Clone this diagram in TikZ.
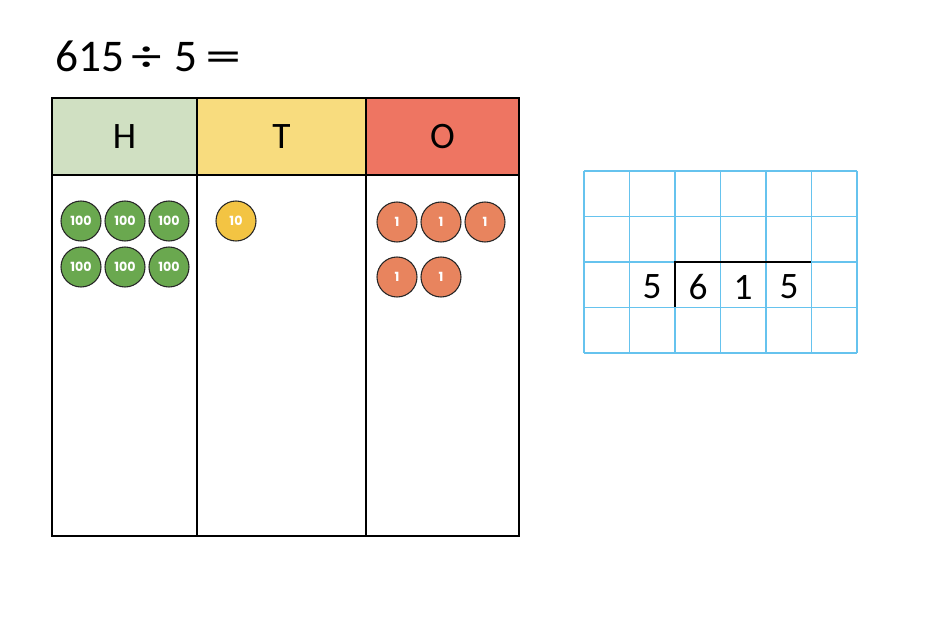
\documentclass[tikz,border=0pt]{standalone}
\usepackage{fontspec}
\setmainfont{Carlito}
\newfontfamily\coinfont{Poppins}
\definecolor{hhead}{HTML}{D0E0C2}
\definecolor{thead}{HTML}{F8DC7E}
\definecolor{ohead}{HTML}{EE7562}
\definecolor{hcoin}{HTML}{6AA84F}
\definecolor{tcoin}{HTML}{F3C443}
\definecolor{ocoin}{HTML}{E8845E}
\definecolor{gridblue}{HTML}{66C3EE}
\begin{document}
\begin{tikzpicture}[x=0.75pt,y=-0.75pt,
  cell/.style={draw=black,line width=1pt},
  coin/.style={circle,draw=black!85,line width=0.8pt,minimum size=30pt,inner sep=0pt,
    text=white,font=\coinfont\bfseries\fontsize{9.5}{10}\selectfont},
  hundred/.style={coin,fill=hcoin},
  ten/.style={coin,fill=tcoin},
  one/.style={coin,fill=ocoin},
  titletxt/.style={anchor=base,inner sep=0pt,font=\fontsize{34}{36}\selectfont},
  headtxt/.style={font=\fontsize{28}{30}\selectfont},
  gridnum/.style={font=\fontsize{28}{30}\selectfont}]
\useasboundingbox (0,0) rectangle (944,634);
% title
\node[titletxt,anchor=base west] (t615) at (55,72) {615};
\node[titletxt] (tdiv) at (146.5,72) {\scalebox{1.35}[1]{÷}};
\node[titletxt] (t5) at (186,72) {5};
\node[titletxt] (teq) at (223.5,72) {\scalebox{1.6}[1]{=}};
% headers
\draw[cell,fill=hhead] (52,98) rectangle (197,175);
\draw[cell,fill=thead] (197,98) rectangle (366,175);
\draw[cell,fill=ohead] (366,98) rectangle (519,175);
\draw[cell] (52,175) rectangle (197,536);
\draw[cell] (197,175) rectangle (366,536);
\draw[cell] (366,175) rectangle (519,536);
\node[headtxt] (H) at (124.5,137) {H};
\node[headtxt] (T) at (281.5,137) {T};
\node[headtxt] (O) at (442.5,137) {O};
% hundreds
\node[hundred] (h1) at (81,221) {100};
\node[hundred] (h2) at (125,221) {100};
\node[hundred] (h3) at (169,221) {100};
\node[hundred] (h4) at (81,267) {100};
\node[hundred] (h5) at (125,267) {100};
\node[hundred] (h6) at (169,267) {100};
% tens
\node[ten] (t1) at (236,221) {10};
% ones
\node[one] (o1) at (397,222) {1};
\node[one] (o2) at (441,222) {1};
\node[one] (o3) at (485,222) {1};
\node[one] (o4) at (397,277) {1};
\node[one] (o5) at (441,277) {1};
% grid
\foreach \i in {0,...,6} {
  \draw[gridblue,line width=1.2pt] ({584+\i*45.5},171) -- ({584+\i*45.5},353);
}
\foreach \j in {0,...,4} {
  \draw[gridblue,line width=1.2pt] (584,{171+\j*45.5}) -- (857,{171+\j*45.5});
}
% bracket
\draw[black,line width=2.2pt] (675,307) -- (675,262) -- (811,262);
\node[gridnum] (d0) at (652,287) {5};
\node[gridnum] (d1) at (698,287) {6};
\node[gridnum] (d2) at (743,287) {1};
\node[gridnum] (d3) at (789,287) {5};
\end{tikzpicture}
\end{document}
